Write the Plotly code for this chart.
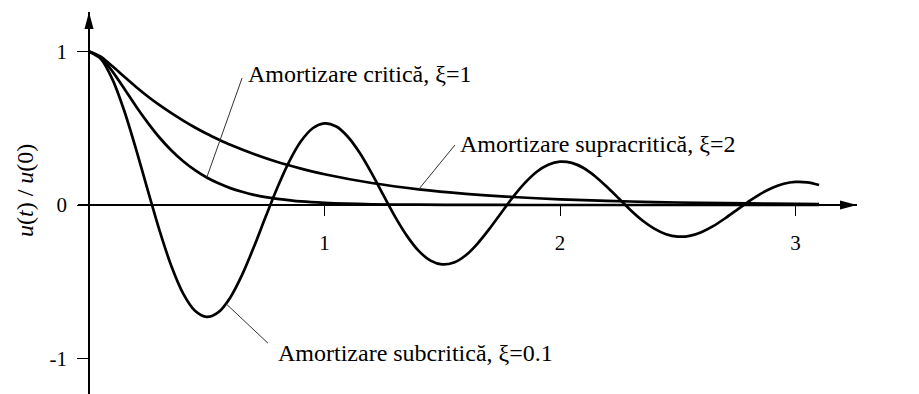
import numpy as np
import plotly.graph_objects as go

# Free-vibration response of a damped SDOF system, u(t)/u(0) versus t/T_n

# Underdamped, xi = 0.1
t_sub = [0.00, 0.05, 0.10, 0.15, 0.20, 0.25, 0.30, 0.35, 0.40, 0.45,
         0.50, 0.55, 0.60, 0.65, 0.70, 0.75, 0.80, 0.85, 0.90, 0.95,
         1.00, 1.05, 1.10, 1.15, 1.20, 1.25, 1.30, 1.35, 1.40, 1.45,
         1.50, 1.55, 1.60, 1.65, 1.70, 1.75, 1.80, 1.85, 1.90, 1.95,
         2.00, 2.05, 2.10, 2.15, 2.20, 2.25, 2.30, 2.35, 2.40, 2.45,
         2.50, 2.55, 2.60, 2.65, 2.70, 2.75, 2.80, 2.85, 2.90, 2.95,
         3.00, 3.05, 3.10]
u_sub = [1.000, 0.952, 0.817, 0.612, 0.362, 0.093, -0.169, -0.399, -0.577, -0.689,
         -0.729, -0.698, -0.602, -0.455, -0.274, -0.077, 0.114, 0.283, 0.415, 0.500,
         0.532, 0.511, 0.443, 0.338, 0.207, 0.064, -0.077, -0.201, -0.299, -0.362,
         -0.387, -0.374, -0.327, -0.251, -0.156, -0.052, 0.051, 0.142, 0.215, 0.262,
         0.282, 0.274, 0.241, 0.186, 0.117, 0.042, -0.034, -0.101, -0.154, -0.190,
         -0.206, -0.201, -0.177, -0.138, -0.088, -0.033, 0.022, 0.071, 0.111, 0.138,
         0.150, 0.147, 0.130]

# Critically damped, xi = 1
t_crit = [0.00, 0.05, 0.10, 0.15, 0.20, 0.25, 0.30, 0.35, 0.40, 0.45,
          0.50, 0.55, 0.60, 0.65, 0.70, 0.75, 0.80, 0.90, 1.00, 1.20,
          1.40, 1.60, 2.00, 2.50, 3.10]
u_crit = [1.000, 0.960, 0.869, 0.757, 0.642, 0.535, 0.438, 0.355, 0.285, 0.227,
          0.179, 0.141, 0.110, 0.086, 0.066, 0.051, 0.040, 0.023, 0.014, 0.005,
          0.002, 0.0005, 0.0, 0.0, 0.0]

# Overdamped, xi = 2
t_over = [0.00, 0.05, 0.10, 0.15, 0.20, 0.25, 0.30, 0.35, 0.40, 0.45,
          0.50, 0.55, 0.60, 0.70, 0.80, 0.90, 1.00, 1.20, 1.40, 1.60,
          1.80, 2.00, 2.20, 2.40, 2.60, 2.80, 3.00, 3.10]
u_over = [1.000, 0.967, 0.903, 0.835, 0.769, 0.707, 0.650, 0.598, 0.550, 0.505,
          0.464, 0.427, 0.392, 0.332, 0.280, 0.237, 0.200, 0.143, 0.102, 0.073,
          0.052, 0.037, 0.027, 0.019, 0.014, 0.010, 0.007, 0.006]

x_ticks = [1, 2, 3]
x_ticktext = ["1", "2", "3"]
y_ticks = [-1, 0, 1]
y_ticktext = ["-1", "0", "1"]

label_crit = "Amortizare critică, ξ=1"
label_over = "Amortizare supracritică, ξ=2"
label_sub = "Amortizare subcritică, ξ=0.1"

FONT = "Liberation Serif, Times New Roman, DejaVu Serif, serif"
W, H = 919, 394
M_L, M_R, M_T, M_B = 78, 62, 12, 0
x_range = [-0.0467, 3.261]
y_range = [-1.231, 1.257]

plot_w = W - M_L - M_R
plot_h = H - M_T - M_B
px_x = plot_w / (x_range[1] - x_range[0])   # pixels per unit of t/T_n
px_y = plot_h / (y_range[1] - y_range[0])   # pixels per unit of u/u0

# axes cross at the origin
yaxis_pos = (0 - x_range[0]) / (x_range[1] - x_range[0])
xaxis_pos = (0 - y_range[0]) / (y_range[1] - y_range[0])

fig = go.Figure()
curve = dict(color="black", width=2.7, shape="spline", smoothing=0.8)
for tt, uu, nm in [(t_over, u_over, "xi=2"), (t_crit, u_crit, "xi=1"), (t_sub, u_sub, "xi=0.1")]:
    fig.add_trace(go.Scatter(x=tt, y=uu, mode="lines", line=curve, name=nm,
                             hoverinfo="skip", showlegend=False))

# arrowheads at the ends of both axes
ah_len, ah_half = 17.0, 4.5
ytip = y_range[1]
xtip = x_range[1]
shapes = [
    dict(type="path", xref="x", yref="y", fillcolor="black", line=dict(width=0),
         path=(f"M {0:.5f},{ytip:.5f} L {-ah_half / px_x:.5f},{ytip - ah_len / px_y:.5f} "
               f"L {ah_half / px_x:.5f},{ytip - ah_len / px_y:.5f} Z")),
    dict(type="path", xref="x", yref="y", fillcolor="black", line=dict(width=0),
         path=(f"M {xtip:.5f},0 L {xtip - ah_len / px_x:.5f},{ah_half / px_y:.5f} "
               f"L {xtip - ah_len / px_x:.5f},{-ah_half / px_y:.5f} Z")),
]

# leader lines from each label to its curve
def leader(t_curve, u_curve, t_at, x_end, y_end):
    u_at = float(np.interp(t_at, t_curve, u_curve))
    return dict(type="line", xref="x", yref="y", x0=t_at, y0=u_at, x1=x_end, y1=y_end,
                line=dict(color="#333333", width=1))

shapes.append(leader(t_crit, u_crit, 0.50, 0.650, 0.827))
shapes.append(leader(t_over, u_over, 1.40, 1.554, 0.391))
shapes.append(leader(t_sub, u_sub, 0.58, 0.760, -0.900))

ann_font = dict(family=FONT, size=24, color="black")
annotations = [
    dict(x=0.668, y=0.855, xref="x", yref="y", text=label_crit, showarrow=False,
         xanchor="left", yanchor="middle", font=ann_font),
    dict(x=1.565, y=0.400, xref="x", yref="y", text=label_over, showarrow=False,
         xanchor="left", yanchor="middle", font=ann_font),
    dict(x=0.792, y=-0.965, xref="x", yref="y", text=label_sub, showarrow=False,
         xanchor="left", yanchor="middle", font=ann_font),
    # axis titles
    dict(x=(25 - M_L) / plot_w, y=(H - 190 - M_B) / plot_h, xref="paper", yref="paper",
         text="<i>u</i>(<i>t</i>) / <i>u</i>(0)",
         showarrow=False, textangle=-90, font=dict(family=FONT, size=24, color="black"),
         xanchor="center", yanchor="middle"),
    dict(x=xtip + 9 / px_x, y=0, xref="x", yref="y",
         text="<i>t</i> / <i>T</i><sub><i>n</i></sub>", showarrow=False,
         xanchor="left", yanchor="middle", font=dict(family=FONT, size=23, color="black")),
]

axis_common = dict(showgrid=False, zeroline=False, showline=True, linecolor="black",
                   linewidth=1.5, ticks="outside", tickcolor="black", tickwidth=1.3,
                   anchor="free", tickfont=dict(family=FONT, size=21, color="black"),
                   fixedrange=True)

fig.update_layout(
    width=W, height=H,
    margin=dict(l=M_L, r=M_R, t=M_T, b=M_B, pad=0),
    paper_bgcolor="white", plot_bgcolor="white",
    font=dict(family=FONT, color="black"),
    showlegend=False,
    xaxis=dict(range=x_range, position=xaxis_pos, tickvals=x_ticks, ticktext=x_ticktext,
               ticklen=10, ticklabelstandoff=9, **axis_common),
    yaxis=dict(range=y_range, position=yaxis_pos, tickvals=y_ticks, ticktext=y_ticktext,
               ticklen=11, ticklabelstandoff=6, **axis_common),
    shapes=shapes,
    annotations=annotations,
)

fig.write_html("out.html", config={"displayModeBar": False})
